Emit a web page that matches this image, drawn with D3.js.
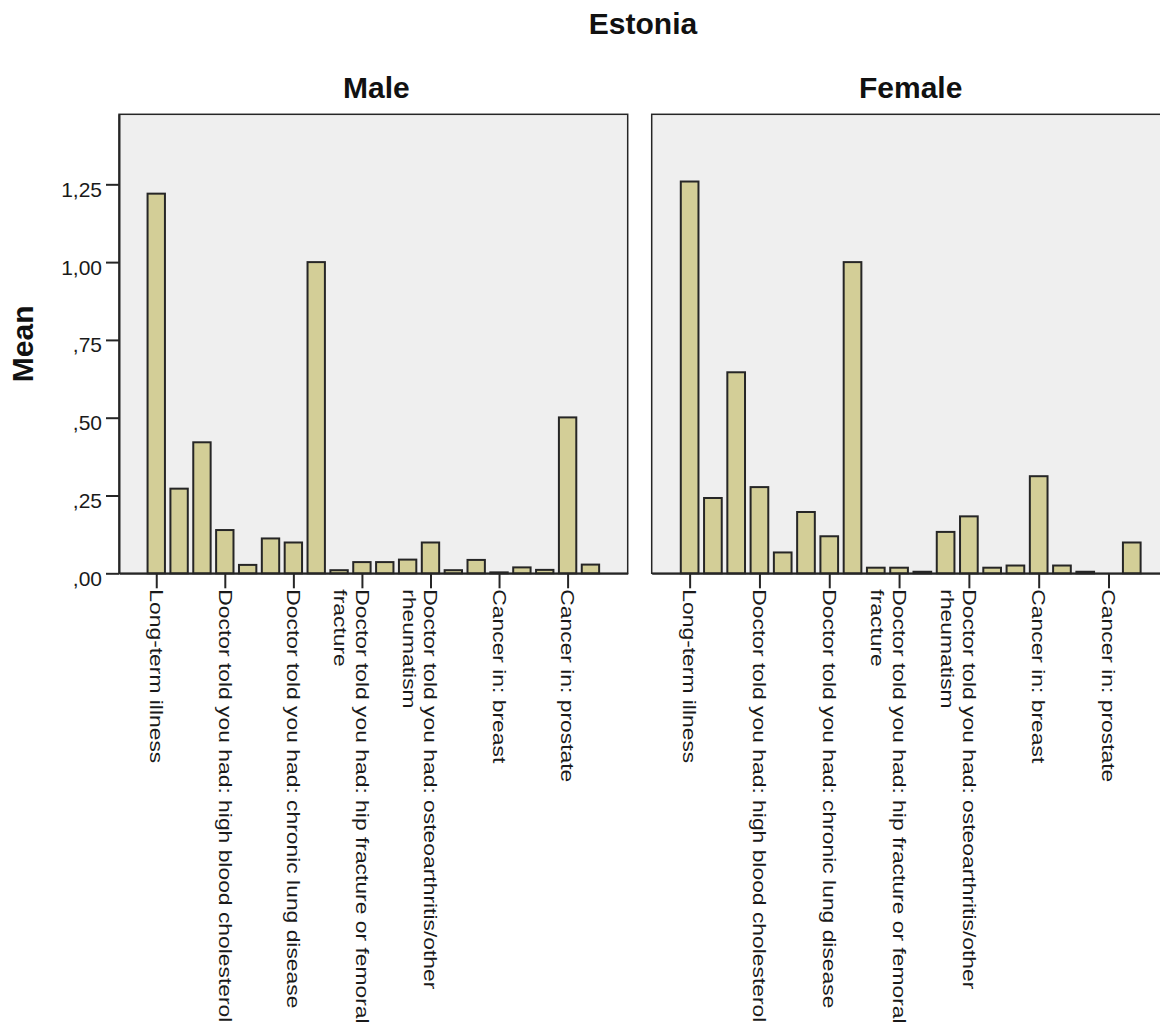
<!DOCTYPE html>
<html>
<head>
<meta charset="utf-8">
<script src="https://cdn.jsdelivr.net/npm/d3@7"></script>
<style>
  html, body { margin: 0; padding: 0; background: #ffffff; }
  svg { display: block; font-family: "Liberation Sans", Arial, sans-serif; }
</style>
</head>
<body>
<svg id="chart" width="1160" height="1030"></svg>
<script>
// ---- data ----
const chartTitle = "Estonia";
const panelTitles = ["Male", "Female"];
const categories = [
  "Long-term illness",
  "Condition 2",
  "Condition 3",
  "Doctor told you had: high blood cholesterol",
  "Condition 5",
  "Condition 6",
  "Doctor told you had: chronic lung disease",
  "Condition 8",
  "Condition 9",
  "Doctor told you had: hip fracture or femoral\nfracture",
  "Condition 11",
  "Condition 12",
  "Doctor told you had: osteoarthritis/other\nrheumatism",
  "Condition 14",
  "Condition 15",
  "Cancer in: breast",
  "Condition 17",
  "Condition 18",
  "Cancer in: prostate",
  "Condition 20"
];
const maleMeans = [1.22, 0.272, 0.421, 0.139, 0.027, 0.112, 0.099, 1.00, 0.010, 0.036,
                   0.036, 0.044, 0.099, 0.010, 0.043, 0.003, 0.019, 0.011, 0.501, 0.028];
const femaleMeans = [1.259, 0.242, 0.646, 0.277, 0.067, 0.197, 0.119, 1.00, 0.018, 0.018,
                     0.005, 0.133, 0.183, 0.018, 0.025, 0.312, 0.025, 0.005, 0.0, 0.099];
const yTickValues = [0, 0.25, 0.5, 0.75, 1.0, 1.25];
const yTickLabels = [",00", ",25", ",50", ",75", "1,00", "1,25"];
const yAxisTitle = "Mean";
const labelEvery = 3;   // every third category carries a tick label

// ---- layout ----
const svg = d3.select("#chart");
const plotTop = 114.3, plotBottom = 573.3;
const panels = [
  { title: panelTitles[0], values: maleMeans,   x0: 119,   width: 508.7, yAxis: true },
  { title: panelTitles[1], values: femaleMeans, x0: 651.7, width: 518,   yAxis: false }
];
const ink = "#262626";
const barFill = "#d3ce97";

const y = d3.scaleLinear().domain([0, 1.475]).range([plotBottom, plotTop]);

// overall title
svg.append("text")
  .attr("x", 643).attr("y", 34)
  .attr("text-anchor", "middle")
  .attr("font-size", 30).attr("font-weight", "bold")
  .attr("fill", "#111")
  .text(chartTitle);

// y-axis title
svg.append("text")
  .attr("transform", `translate(33,${(plotTop + plotBottom) / 2}) rotate(-90)`)
  .attr("text-anchor", "middle")
  .attr("font-size", 30).attr("font-weight", "bold")
  .attr("fill", "#111")
  .text(yAxisTitle);

panels.forEach(p => {
  const g = svg.append("g");

  const x = d3.scalePoint()
    .domain(categories)
    .range([p.x0, p.x0 + p.width])
    .padding(1.63);
  const step = x.step();
  const bw = step * 0.76;

  // panel background and frame
  g.append("rect")
    .attr("x", p.x0).attr("y", plotTop)
    .attr("width", p.width).attr("height", plotBottom - plotTop)
    .attr("fill", "#efefef")
    .attr("stroke", ink).attr("stroke-width", 1.5);

  // panel title
  g.append("text")
    .attr("x", p.x0 + p.width / 2 + (p.yAxis ? 3 : 0)).attr("y", 98)
    .attr("text-anchor", "middle")
    .attr("font-size", 30).attr("font-weight", "bold")
    .attr("fill", "#111")
    .text(p.title);

  // bars
  g.selectAll("rect.bar")
    .data(categories.map((c, i) => ({ c, v: p.values[i] })))
    .join("rect")
    .attr("class", "bar")
    .attr("x", d => x(d.c) - bw / 2)
    .attr("y", d => y(d.v))
    .attr("width", bw)
    .attr("height", d => plotBottom - y(d.v))
    .attr("fill", barFill)
    .attr("stroke", ink)
    .attr("stroke-width", 2);

  // x axis with thinned ticks
  const shown = categories.filter((c, i) => i % labelEvery === 0);
  const xAxis = g.append("g")
    .attr("transform", `translate(0,${plotBottom})`)
    .call(d3.axisBottom(x).tickValues(shown).tickSize(15).tickSizeOuter(0).tickFormat(""));
  xAxis.select(".domain").attr("stroke", ink).attr("stroke-width", 2);
  xAxis.selectAll(".tick line").attr("stroke", ink).attr("stroke-width", 2);

  // rotated category labels, glyphs widened along the reading direction
  const lab = g.selectAll("text.cat")
    .data(shown)
    .join("text")
    .attr("class", "cat")
    .attr("transform", d => `translate(${x(d)},${plotBottom + 16}) rotate(90) scale(1.27,1)`)
    .attr("text-anchor", "start")
    .attr("font-size", 18)
    .attr("fill", "#1a1a1a");
  lab.each(function (d) {
    const t = d3.select(this);
    d.split("\n").forEach((line, k) => {
      t.append("tspan")
        .attr("x", 0)
        .attr("dy", k === 0 ? "0.35em" : "1.2em")
        .text(line);
    });
  });

  // y axis on the first panel only
  if (p.yAxis) {
    const yAxis = g.append("g")
      .attr("transform", `translate(${p.x0},0)`)
      .call(d3.axisLeft(y)
        .tickValues(yTickValues)
        .tickFormat((d, i) => yTickLabels[i])
        .tickSize(13).tickSizeOuter(0).tickPadding(4));
    yAxis.select(".domain").attr("stroke", ink).attr("stroke-width", 2);
    yAxis.selectAll(".tick line").attr("stroke", ink).attr("stroke-width", 2);
    yAxis.selectAll(".tick text")
      .attr("font-size", 21)
      .attr("font-family", "Liberation Sans, Arial, sans-serif")
      .attr("fill", "#1a1a1a")
      .attr("dy", "0.57em");
  }
});
</script>
</body>
</html>
